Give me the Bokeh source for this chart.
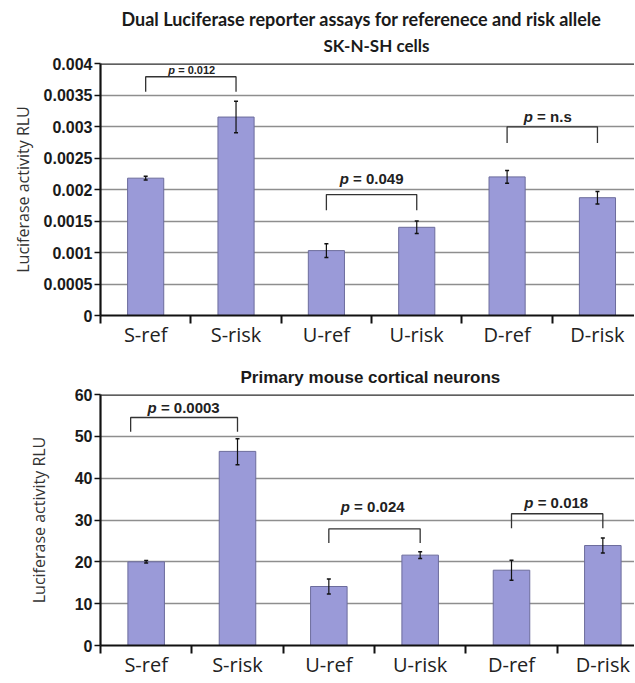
from bokeh.plotting import figure
from bokeh.models import ColumnDataSource, Whisker, TeeHead, FixedTicker, Title, Span, Range1d
from bokeh.layouts import column
from bokeh.embed import file_html
from bokeh.resources import INLINE
from bokeh.core.properties import value

# ---------------- data ----------------
categories = ["S-ref", "S-risk", "U-ref", "U-risk", "D-ref", "D-risk"]

# SK-N-SH cells
sk_values = [0.00218, 0.00315, 0.00103, 0.00140, 0.00220, 0.00187]
sk_lower = [0.00215, 0.00290, 0.00092, 0.00130, 0.00210, 0.00177]
sk_upper = [0.00221, 0.00340, 0.00114, 0.00150, 0.00230, 0.00197]
sk_ticks = [0, 0.0005, 0.001, 0.0015, 0.002, 0.0025, 0.003, 0.0035, 0.004]
sk_tick_labels = ["0", "0.0005", "0.001", "0.0015", "0.002", "0.0025", "0.003", "0.0035", "0.004"]
sk_p_text = ["0.012", "0.049", "n.s"]
sk_br_left = [0, 2, 4]
sk_br_right = [1, 3, 5]
sk_br_top = [0.00379, 0.00192, 0.002995]
sk_br_foot = [0.00355, 0.00167, 0.00274]
sk_p_x = [0.51, 2.5, 4.45]
sk_p_y = [0.003895, 0.002174, 0.003158]
sk_p_size = [11, 15, 15]

# Primary mouse cortical neurons
cn_values = [20.0, 46.4, 14.1, 21.6, 18.0, 23.9]
cn_lower = [19.7, 43.2, 12.3, 20.8, 15.6, 22.1]
cn_upper = [20.3, 49.4, 15.9, 22.4, 20.4, 25.7]
cn_ticks = [0, 10, 20, 30, 40, 50, 60]
cn_tick_labels = ["0", "10", "20", "30", "40", "50", "60"]
cn_p_text = ["0.0003", "0.024", "0.018"]
cn_br_left = [-0.17, 2, 4]
cn_br_right = [1, 3, 5]
cn_br_top = [54.5, 27.9, 31.5]
cn_br_foot = [51.1, 24.5, 28.0]
cn_p_x = [0.41, 2.48, 4.49]
cn_p_y = [56.9, 33.2, 34.2]
cn_p_size = [15, 15, 15]

title1_a = "Dual Luciferase reporter assays for referenece and risk allele"
title1_b = "SK-N-SH cells"
title2 = "Primary mouse cortical neurons"
ylabel = "Luciferase activity RLU"

# Arial/Liberation Sans Bold advance widths (per 1000 em)
AB = {c: 556 for c in "0123456789"}
AB.update({".": 278, " ": 278, "=": 584, "n": 611, "s": 556, "p": 611})


def text_w(s, size):
    return sum(AB.get(c, 556) for c in s) / 1000.0 * size


def build(values, lower, upper, ticks, tick_labels, p_text, brl, brr, brt, brf,
          px, py, psize, xr_end, frame_w, frame_h, mb_left, mb_top, ylab_standoff, titles):
    idx = list(range(len(categories)))
    p = figure(frame_width=frame_w, frame_height=frame_h, output_backend="svg",
               toolbar_location=None,
               x_range=Range1d(-0.5, xr_end), y_range=Range1d(ticks[0], ticks[-1]),
               min_border_left=mb_left, min_border_right=0, min_border_top=mb_top,
               min_border_bottom=0)
    p.outline_line_color = None
    p.background_fill_color = "white"
    p.xgrid.grid_line_color = None
    p.ygrid.ticker = FixedTicker(ticks=ticks)
    p.ygrid.grid_line_color = "#8e8e8e"
    p.ygrid.grid_line_width = 1.6

    for (txt, size, font, align, off, standoff) in titles:
        p.add_layout(Title(text=txt, text_font_size=size, text_font=font, text_font_style="bold",
                           align=align, offset=off, standoff=standoff, text_color="#1a1a1a"),
                     "above")

    p.add_layout(Span(location=ticks[-1], dimension="width", line_color="#2a2a2a", line_width=2.5))

    src = ColumnDataSource(dict(x=idx, top=values, lower=lower, upper=upper))
    p.vbar(x="x", top="top", width=0.4, source=src, fill_color="#9a9ad8",
           line_color="#6c6c9c", line_width=1)
    p.add_layout(Whisker(base="x", upper="upper", lower="lower", source=src, level="overlay",
                         line_color="#111111", line_width=1.2,
                         upper_head=TeeHead(size=4, line_color="#111111", line_width=1.5),
                         lower_head=TeeHead(size=4, line_color="#111111", line_width=1.5)))

    xs = [[a, a, b, b] for a, b in zip(brl, brr)]
    ys = [[f, t, t, f] for t, f in zip(brt, brf)]
    p.multi_line(xs=xs, ys=ys, line_color="#333333", line_width=1.3)

    widths = [text_w("p = " + t, s) for t, s in zip(p_text, psize)]
    lsrc = ColumnDataSource(dict(
        x=px, y=py,
        ptxt=["p"] * len(p_text),
        rest=["= " + t for t in p_text],
        size=["%dpx" % s for s in psize],
        off_p=[-w / 2.0 for w in widths],
        off_r=[-w / 2.0 + 0.889 * s for w, s in zip(widths, psize)],
    ))
    p.text(x="x", y="y", text="ptxt", source=lsrc, x_offset="off_p", text_align="left",
           text_baseline="middle", text_font=value("Liberation Sans"),
           text_font_style="bold italic", text_font_size="size", text_color="#222222")
    p.text(x="x", y="y", text="rest", source=lsrc, x_offset="off_r", text_align="left",
           text_baseline="middle", text_font=value("Liberation Sans"),
           text_font_style="bold", text_font_size="size", text_color="#222222")

    xa = p.xaxis[0]
    xa.ticker = FixedTicker(ticks=idx, minor_ticks=[i - 0.5 for i in range(len(categories) + 1)])
    xa.major_label_overrides = {i: c for i, c in zip(idx, categories)}
    xa.major_tick_line_color = None
    xa.major_tick_out = 0
    xa.major_tick_in = 0
    xa.minor_tick_line_color = "#111111"
    xa.minor_tick_line_width = 2
    xa.minor_tick_out = 8
    xa.minor_tick_in = 0
    xa.axis_line_color = "#111111"
    xa.axis_line_width = 2.2
    xa.major_label_text_font = "Open Sans"
    xa.major_label_text_font_size = "20px"
    xa.major_label_text_color = "#222222"
    xa.major_label_standoff = -3

    ya = p.yaxis[0]
    ya.ticker = FixedTicker(ticks=ticks)
    ya.major_label_overrides = {t: l for t, l in zip(ticks, tick_labels)}
    ya.minor_tick_line_color = None
    ya.major_tick_out = 6
    ya.major_tick_in = 0
    ya.major_tick_line_color = "#111111"
    ya.major_tick_line_width = 1.5
    ya.axis_line_color = "#111111"
    ya.axis_line_width = 2.2
    ya.major_label_text_font = "Liberation Sans"
    ya.major_label_text_font_style = "bold"
    ya.major_label_text_font_size = "16px"
    ya.major_label_text_color = "#1a1a1a"
    ya.major_label_standoff = 2
    ya.axis_label = ylabel
    ya.axis_label_text_font = "Open Sans"
    ya.axis_label_text_font_style = "normal"
    ya.axis_label_text_font_size = "16px"
    ya.axis_label_text_color = "#333333"
    ya.axis_label_standoff = ylab_standoff
    return p


p1 = build(sk_values, sk_lower, sk_upper, sk_ticks, sk_tick_labels, sk_p_text,
           sk_br_left, sk_br_right, sk_br_top, sk_br_foot, sk_p_x, sk_p_y, sk_p_size,
           5.41, 534, 252, 100, 63, 7,
           [(title1_b, "17px", "Lato", "left", 223, 15),
            (title1_a, "18px", "Lato", "left", 21, -8)])
p2 = build(cn_values, cn_lower, cn_upper, cn_ticks, cn_tick_labels, cn_p_text,
           cn_br_left, cn_br_right, cn_br_top, cn_br_foot, cn_p_x, cn_p_y, cn_p_size,
           5.5, 548, 251, 86, 44, 22,
           [(title2, "17px", "Liberation Sans", "left", 140, 15)])

layout = column(p1, p2, spacing=0)
open("out.html", "w").write(file_html(layout, INLINE))
